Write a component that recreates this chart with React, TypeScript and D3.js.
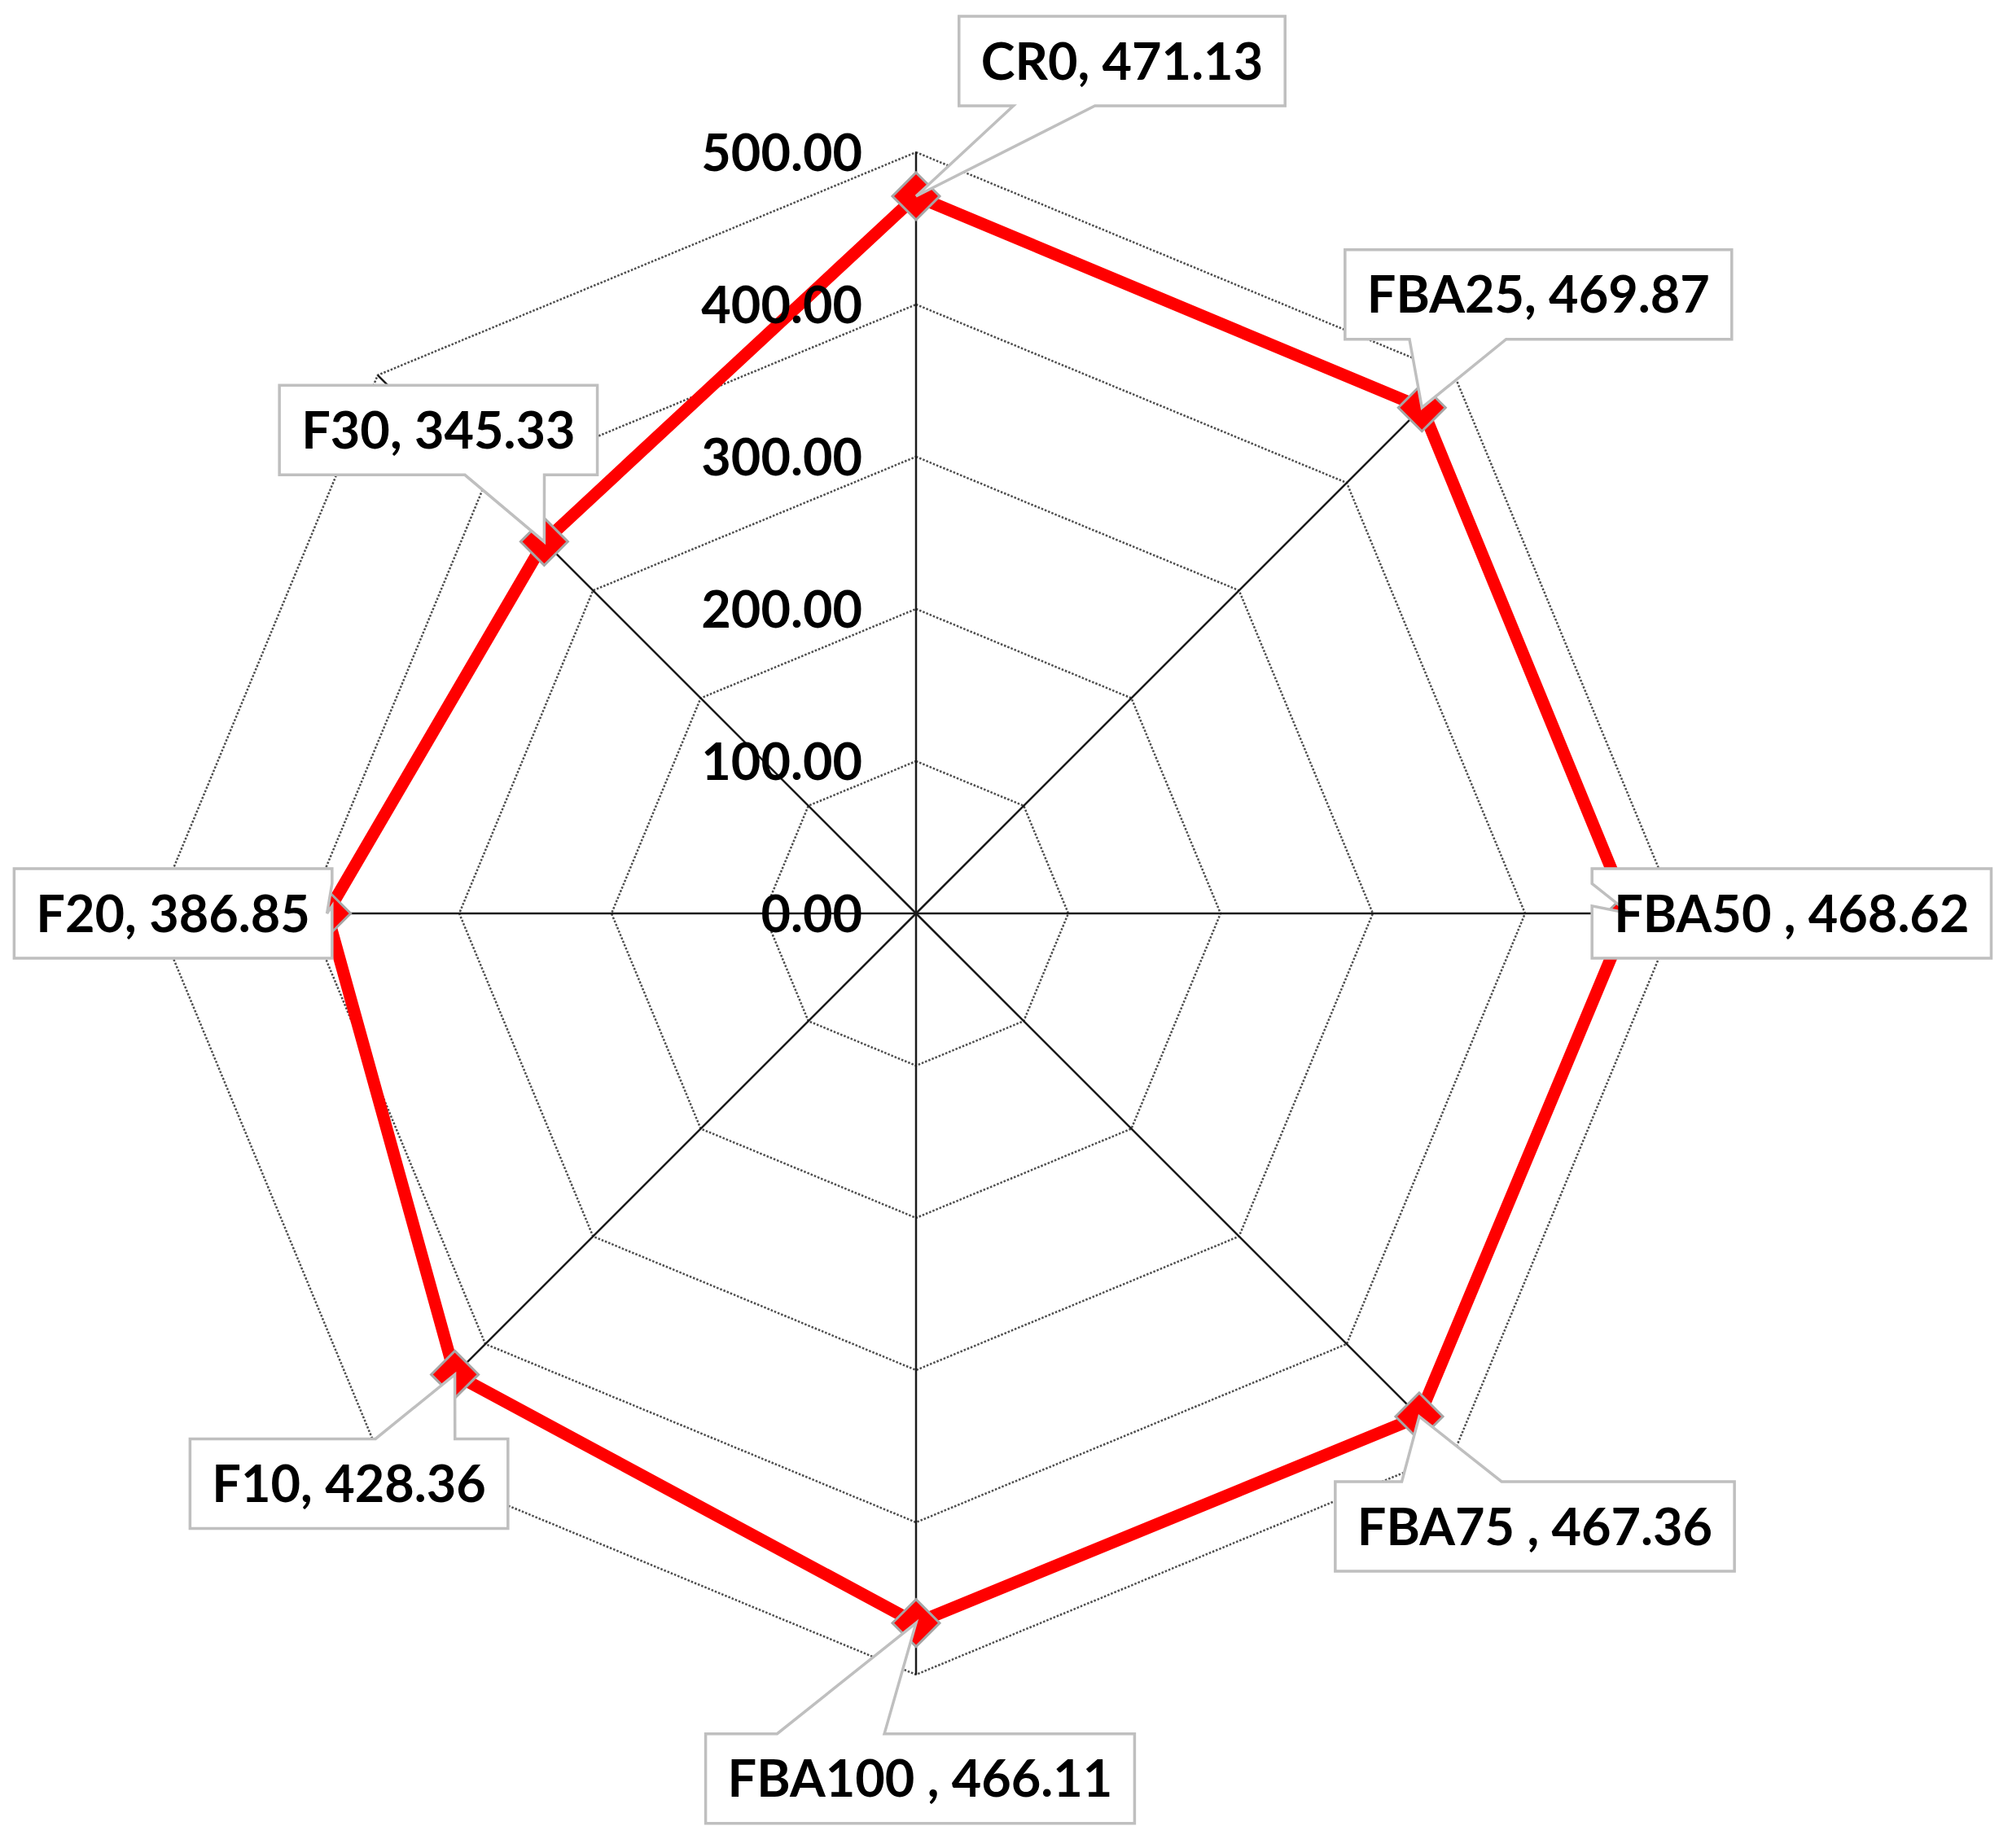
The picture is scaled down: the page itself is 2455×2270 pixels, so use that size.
import React, { useEffect, useRef } from "react";
import * as d3 from "d3";

const categories = ["CR0", "FBA25", "FBA50 ", "FBA75 ", "FBA100 ", "F10", "F20", "F30"];
const values = [471.13, 469.87, 468.62, 467.36, 466.11, 428.36, 386.85, 345.33];
const ticks = [0, 100, 200, 300, 400, 500];

// where each callout box sits, relative to its point (px)
const labelOffsets = [
  [253, -166],
  [143, -139],
  [199, 0],
  [142, 135],
  [5, 191],
  [-130, 134],
  [-189, 0],
  [-130, -137],
];

// Office-style wedgeRectCallout outline
function calloutPath(l: number, t: number, w: number, h: number, px: number, py: number) {
  const r = l + w, b = t + h;
  const hc = l + w / 2, vc = t + h / 2;
  const dx = px - hc, dy = py - vc;
  const dz = Math.abs(dy) - Math.abs((dx * h) / w);
  const x1 = l + (w * (dx > 0 ? 7 : 2)) / 12;
  const x2 = l + (w * (dx > 0 ? 10 : 5)) / 12;
  const y1 = t + (h * (dy > 0 ? 7 : 2)) / 12;
  const y2 = t + (h * (dy > 0 ? 10 : 5)) / 12;
  const xl = dz > 0 ? l : dx > 0 ? l : px;
  const yl = dz > 0 ? y1 : dx > 0 ? y1 : py;
  const xr = dz > 0 ? r : dx > 0 ? px : r;
  const yr = dz > 0 ? y1 : dx > 0 ? py : y1;
  const xt = dz > 0 ? (dy > 0 ? x1 : px) : x1;
  const yt = dz > 0 ? (dy > 0 ? t : py) : t;
  const xb = dz > 0 ? (dy > 0 ? px : x1) : x1;
  const yb = dz > 0 ? (dy > 0 ? py : b) : b;
  return `M${l},${t}L${x1},${t}L${xt},${yt}L${x2},${t}L${r},${t}` +
    `L${r},${y1}L${xr},${yr}L${r},${y2}L${r},${b}` +
    `L${x2},${b}L${xb},${yb}L${x1},${b}L${l},${b}` +
    `L${l},${y2}L${xl},${yl}L${l},${y1}Z`;
}

const RadarChart = () => {
  const svgRef = useRef<SVGSVGElement>(null);

  useEffect(() => {
    const width = 2455;
    const height = 2270;
    const cx = 1125;
    const cy = 1122;
    const R = 935;
    const font = "Lato, 'Open Sans', sans-serif";

    const svg = d3.select(svgRef.current);
    svg.selectAll("*").remove();
    svg.attr("width", width).attr("height", height).attr("viewBox", `0 0 ${width} ${height}`);

    const rScale = d3.scaleLinear().domain([0, 500]).range([0, R]);
    const aScale = d3.scaleLinear().domain([0, categories.length]).range([0, 2 * Math.PI]);
    const px = (i: number, v: number) => cx + rScale(v) * Math.sin(aScale(i));
    const py = (i: number, v: number) => cy - rScale(v) * Math.cos(aScale(i));

    const g = svg.append("g").attr("transform", `translate(${cx},${cy})`);

    // grid rings
    ticks.filter((t) => t > 0).forEach((t) => {
      const ring = d3
        .lineRadial<number>()
        .angle((_, i) => aScale(i))
        .radius(() => rScale(t))
        .curve(d3.curveLinearClosed);
      g.append("path")
        .attr("d", ring(categories.map(() => t)))
        .attr("fill", "none")
        .attr("stroke", "#4d4d4d")
        .attr("stroke-width", 2.5)
        .attr("stroke-dasharray", "2.5 2");
    });

    // spokes
    categories.forEach((_, i) => {
      svg.append("line")
        .attr("x1", cx).attr("y1", cy)
        .attr("x2", px(i, 500)).attr("y2", py(i, 500))
        .attr("stroke", "#1a1a1a")
        .attr("stroke-width", 2.5);
    });

    // series line
    const line = d3
      .lineRadial<number>()
      .angle((_, i) => aScale(i))
      .radius((d) => rScale(d))
      .curve(d3.curveLinearClosed);
    g.append("path")
      .attr("d", line(values))
      .attr("fill", "none")
      .attr("stroke", "#ff0000")
      .attr("stroke-width", 15)
      .attr("stroke-linejoin", "miter");

    // tick labels
    ticks.forEach((t) => {
      svg.append("text")
        .attr("x", cx - 66)
        .attr("y", cy - rScale(t))
        .attr("dy", "0.36em")
        .attr("text-anchor", "end")
        .attr("font-family", font)
        .attr("font-weight", 700)
        .attr("font-size", 63)
        .attr("fill", "#000")
        .text(d3.format(".2f")(t));
    });

    // markers
    values.forEach((v, i) => {
      const x = px(i, v), y = py(i, v), s = 29;
      svg.append("path")
        .attr("d", `M${x},${y - s}L${x + s},${y}L${x},${y + s}L${x - s},${y}Z`)
        .attr("fill", "#ff0000")
        .attr("stroke", "#a6a6a6")
        .attr("stroke-width", 3);
    });

    // callout labels
    values.forEach((v, i) => {
      const x = px(i, v), y = py(i, v);
      const bx = x + labelOffsets[i][0];
      const by = y + labelOffsets[i][1];
      const grp = svg.append("g");
      const path = grp.append("path");
      const txt = grp.append("text")
        .attr("x", bx)
        .attr("y", by)
        .attr("dy", "0.36em")
        .attr("text-anchor", "middle")
        .attr("font-family", font)
        .attr("font-weight", 700)
        .attr("font-size", 63)
        .attr("fill", "#000")
        .text(`${categories[i]}, ${d3.format(".2f")(v)}`);
      const tw = (txt.node() as SVGTextElement).getComputedTextLength();
      const w = tw + 54, h = 110;
      path
        .attr("d", calloutPath(bx - w / 2, by - h / 2, w, h, x, y))
        .attr("fill", "#ffffff")
        .attr("stroke", "#bfbfbf")
        .attr("stroke-width", 3.5);
    });
  }, []);

  return <svg ref={svgRef} style={{ position: "absolute", left: 0, top: 0, background: "#fff" }} />;
};

export default function App() {
  return <RadarChart />;
}
